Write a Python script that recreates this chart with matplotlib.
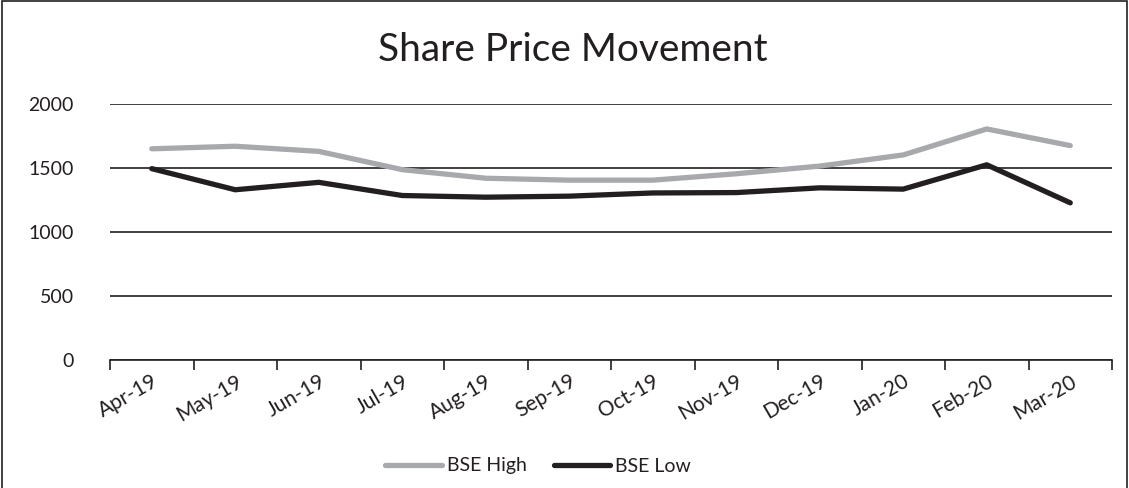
import numpy as np
import matplotlib.pyplot as plt
from matplotlib.patches import Rectangle

months = ['Apr-19', 'May-19', 'Jun-19', 'Jul-19', 'Aug-19', 'Sep-19',
          'Oct-19', 'Nov-19', 'Dec-19', 'Jan-20', 'Feb-20', 'Mar-20']
bse_high = [1650, 1670, 1630, 1487, 1420, 1405, 1405, 1455, 1515, 1602, 1805, 1675]
bse_low = [1495, 1330, 1388, 1285, 1272, 1280, 1305, 1308, 1345, 1335, 1525, 1228]
y_ticks = [0, 500, 1000, 1500, 2000]

plt.rcParams['font.family'] = ['Lato', 'DejaVu Sans']

fig = plt.figure(figsize=(11.29, 4.88), dpi=100)
ax = fig.add_axes([110 / 1129, 1 - 360 / 488, (1112 - 110) / 1129, (360 - 104) / 488])

x = np.arange(len(months))
ax.plot(x, bse_high, color='#A7A9AC', linewidth=3.8, solid_capstyle='round',
        solid_joinstyle='round', label='BSE High', zorder=3)
ax.plot(x, bse_low, color='#231F20', linewidth=3.8, solid_capstyle='round',
        solid_joinstyle='round', label='BSE Low', zorder=3)

ax.set_xlim(-0.5, len(months) - 0.5)
ax.set_ylim(0, 2000)
ax.set_yticks(y_ticks)
ax.set_yticklabels([str(v) for v in y_ticks], fontsize=14)
ax.tick_params(axis='y', length=0, pad=26, colors='#231F20')
ax.yaxis.grid(True, color='#231F20', linewidth=1.2)
ax.set_axisbelow(True)

# boundary ticks as major, labels at category centers as minor
ax.set_xticks(np.arange(-0.5, len(months), 1.0))
ax.set_xticklabels([])
ax.tick_params(axis='x', which='major', length=7, width=1.2, color='#231F20')
ax.set_xticks(x, minor=True)
ax.set_xticklabels(months, minor=True, rotation=30, ha='right',
                   rotation_mode='anchor', fontsize=15, color='#231F20')
ax.tick_params(axis='x', which='minor', length=0, pad=8)

for side in ['left', 'right', 'top']:
    ax.spines[side].set_visible(False)
ax.spines['bottom'].set_color('#231F20')
ax.spines['bottom'].set_linewidth(1.2)

fig.text(573 / 1129, 1 - 50 / 488, 'Share Price Movement', ha='center', va='center',
         fontsize=28, color='#231F20')

leg = fig.legend(loc='center', bbox_to_anchor=(538 / 1129, 1 - 466 / 488), ncol=2,
                 frameon=False, fontsize=14, handlelength=2.9, columnspacing=1.4,
                 handletextpad=0.25)
for t in leg.get_texts():
    t.set_color('#231F20')

fig.add_artist(Rectangle((0.002, -0.05), 0.996, 1.048, transform=fig.transFigure,
                         fill=False, edgecolor='#231F20', linewidth=1.2))

fig.savefig('out.png', dpi=100)
